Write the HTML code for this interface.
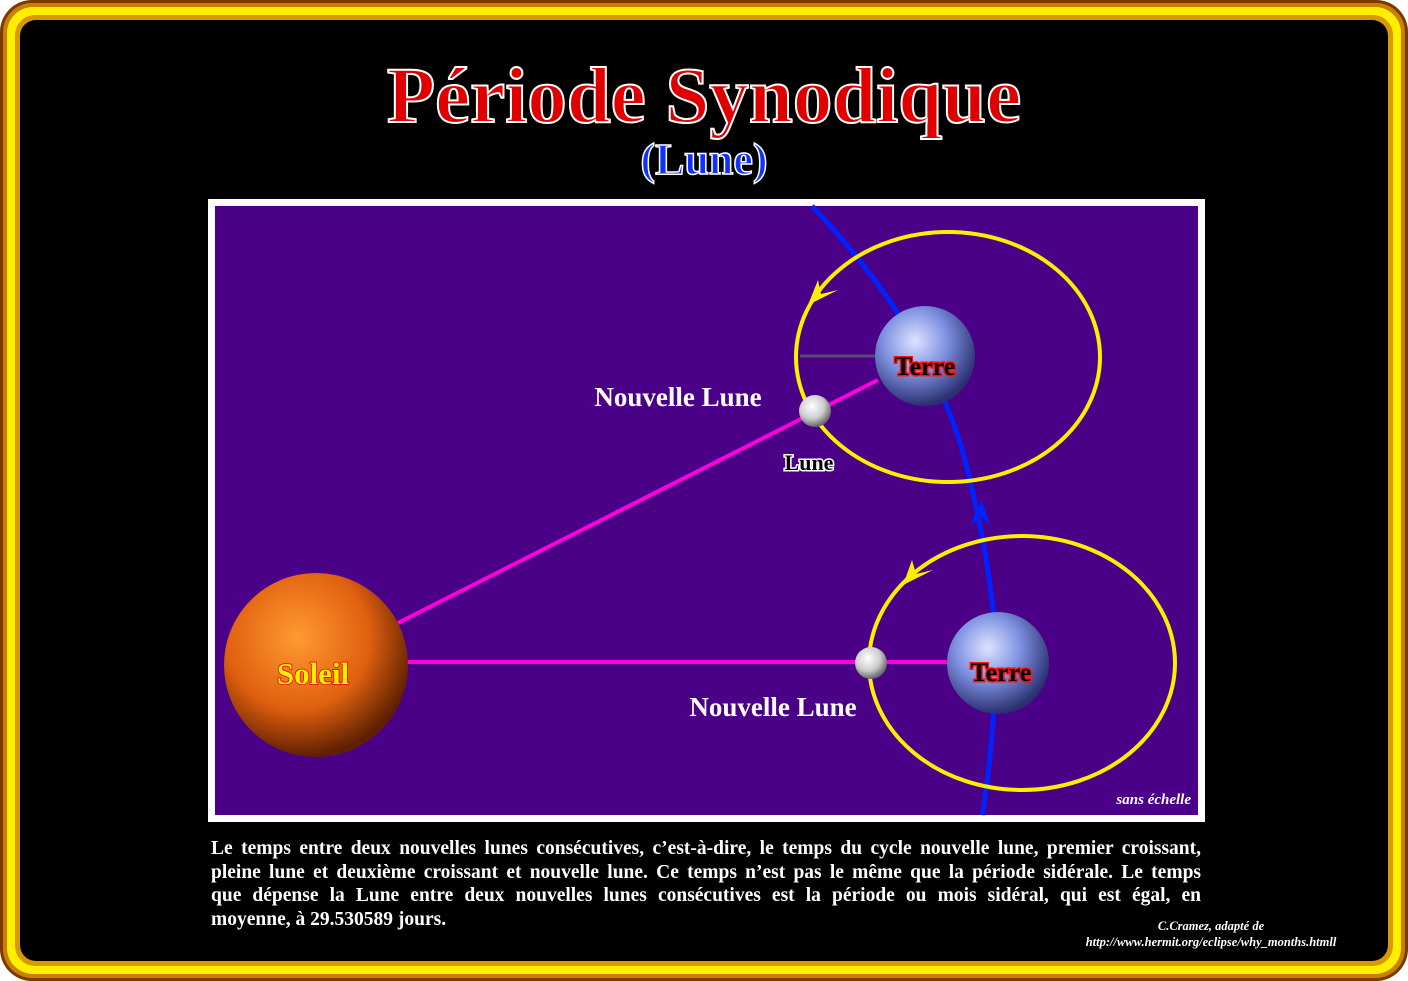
<!DOCTYPE html>
<html><head><meta charset="utf-8"><style>
body{margin:0;width:1408px;height:981px;background:#fff;overflow:hidden;font-family:"Liberation Serif",serif;position:relative}
.b{position:absolute}
.t{position:absolute;left:0;width:1408px;text-align:center;font-weight:bold}
.p div{text-align:justify;text-align-last:justify;white-space:nowrap}
</style></head><body>
<div class="b" style="left:0;top:0;width:1408px;height:981px;border-radius:32px;background:#7a3a00"></div>
<div class="b" style="left:3px;top:3px;width:1402px;height:975px;border-radius:29px;background:#c88000"></div>
<div class="b" style="left:7px;top:7px;width:1394px;height:967px;border-radius:26px;background:#ffee00"></div>
<div class="b" style="left:15px;top:15px;width:1378px;height:951px;border-radius:20px;background:#d89a00"></div>
<div class="b" style="left:20px;top:20px;width:1368px;height:941px;border-radius:16px;background:#000"></div>
<div class="t" style="top:52px;font-size:79px;color:#e00000;-webkit-text-stroke:2px #fff;">Période Synodique</div>
<div class="t" style="top:134px;font-size:44px;color:#1030ff;-webkit-text-stroke:1.5px #fff;">(Lune)</div>
<svg style="position:absolute;left:0;top:0" width="1408" height="981">
<defs>
<radialGradient id="sun" cx="40%" cy="35%" r="65%"><stop offset="0" stop-color="#ff9a30"/><stop offset="0.6" stop-color="#e06010"/><stop offset="1" stop-color="#602000"/></radialGradient>
<radialGradient id="earth" cx="40%" cy="35%" r="65%"><stop offset="0" stop-color="#dde4ff"/><stop offset="0.5" stop-color="#7e90e0"/><stop offset="1" stop-color="#2a3070"/></radialGradient>
<radialGradient id="moon" cx="40%" cy="35%" r="65%"><stop offset="0" stop-color="#fff"/><stop offset="0.6" stop-color="#ccc"/><stop offset="1" stop-color="#666"/></radialGradient>
</defs>
<rect x="208" y="199" width="997" height="623" fill="#fff"/>
<rect x="215" y="206" width="983" height="609" fill="#4b0088"/>
<path d="M812 206 Q930 330 965 460 Q1000 600 995 680 Q992 760 982 815" stroke="#0022ff" stroke-width="5" fill="none"/>
<path d="M970 525 L982 500 L990 525 L981 517 Z" fill="#0022ff"/>
<ellipse cx="948" cy="357" rx="152" ry="125" fill="none" stroke="#ffee00" stroke-width="4"/>
<ellipse cx="1022" cy="663" rx="153" ry="127" fill="none" stroke="#ffee00" stroke-width="4"/>
<path d="M808 305 L818 280 L821 294 L838 290 Z" fill="#ffee00"/>
<path d="M903 585 L912 560 L916 574 L933 570 Z" fill="#ffee00"/>
<line x1="398" y1="623" x2="878" y2="380" stroke="#ff00dd" stroke-width="4"/>
<line x1="405" y1="662" x2="952" y2="662" stroke="#ff00dd" stroke-width="4"/>
<line x1="800" y1="356" x2="876" y2="356" stroke="#5a4a70" stroke-width="3"/>
<circle cx="316" cy="665" r="92" fill="url(#sun)"/>
<circle cx="925" cy="356" r="50" fill="url(#earth)"/>
<circle cx="998" cy="663" r="51" fill="url(#earth)"/>
<circle cx="815" cy="411" r="16" fill="url(#moon)"/>
<circle cx="871" cy="663" r="16" fill="url(#moon)"/>
<g font-family="Liberation Serif,serif" font-weight="bold">
<text x="313" y="684" font-size="31" fill="#ffee00" stroke="#e00000" stroke-width="1.5" text-anchor="middle" paint-order="stroke">Soleil</text>
<text x="925" y="375" font-size="26" fill="#000" stroke="#ff1010" stroke-width="3" text-anchor="middle" paint-order="stroke">Terre</text>
<text x="1001" y="681" font-size="26" fill="#000" stroke="#ff1010" stroke-width="3" text-anchor="middle" paint-order="stroke">Terre</text>
<text x="809" y="470" font-size="22" fill="#000" stroke="#fff" stroke-width="3" text-anchor="middle" paint-order="stroke">Lune</text>
<text x="678" y="406" font-size="27" fill="#fff" text-anchor="middle">Nouvelle Lune</text>
<text x="773" y="716" font-size="27" fill="#fff" text-anchor="middle">Nouvelle Lune</text>
<text x="1191" y="804" font-size="15" fill="#fff" font-style="italic" text-anchor="end">sans échelle</text>
<text x="1211" y="930" font-size="12.5" fill="#fff" font-style="italic" text-anchor="middle">C.Cramez, adapté de</text>
<text x="1211" y="946" font-size="12.5" fill="#fff" font-style="italic" text-anchor="middle">http://www.hermit.org/eclipse/why_months.htmll</text>
</g>
</svg>
<div class="p" style="position:absolute;left:211px;top:837px;width:990px;color:#fff;font-weight:bold;font-size:19.5px;line-height:23.5px">
<div>Le temps entre deux nouvelles lunes consécutives, c’est-à-dire, le temps du cycle nouvelle lune, premier croissant,</div>
<div>pleine lune et deuxième croissant et nouvelle lune. Ce temps n’est pas le même  que la période sidérale. Le temps</div>
<div>que dépense la Lune entre deux nouvelles lunes consécutives est la période ou mois sidéral, qui est égal, en</div>
<div style="text-align-last:left">moyenne, à  29.530589 jours.</div>
</div>
</body></html>
